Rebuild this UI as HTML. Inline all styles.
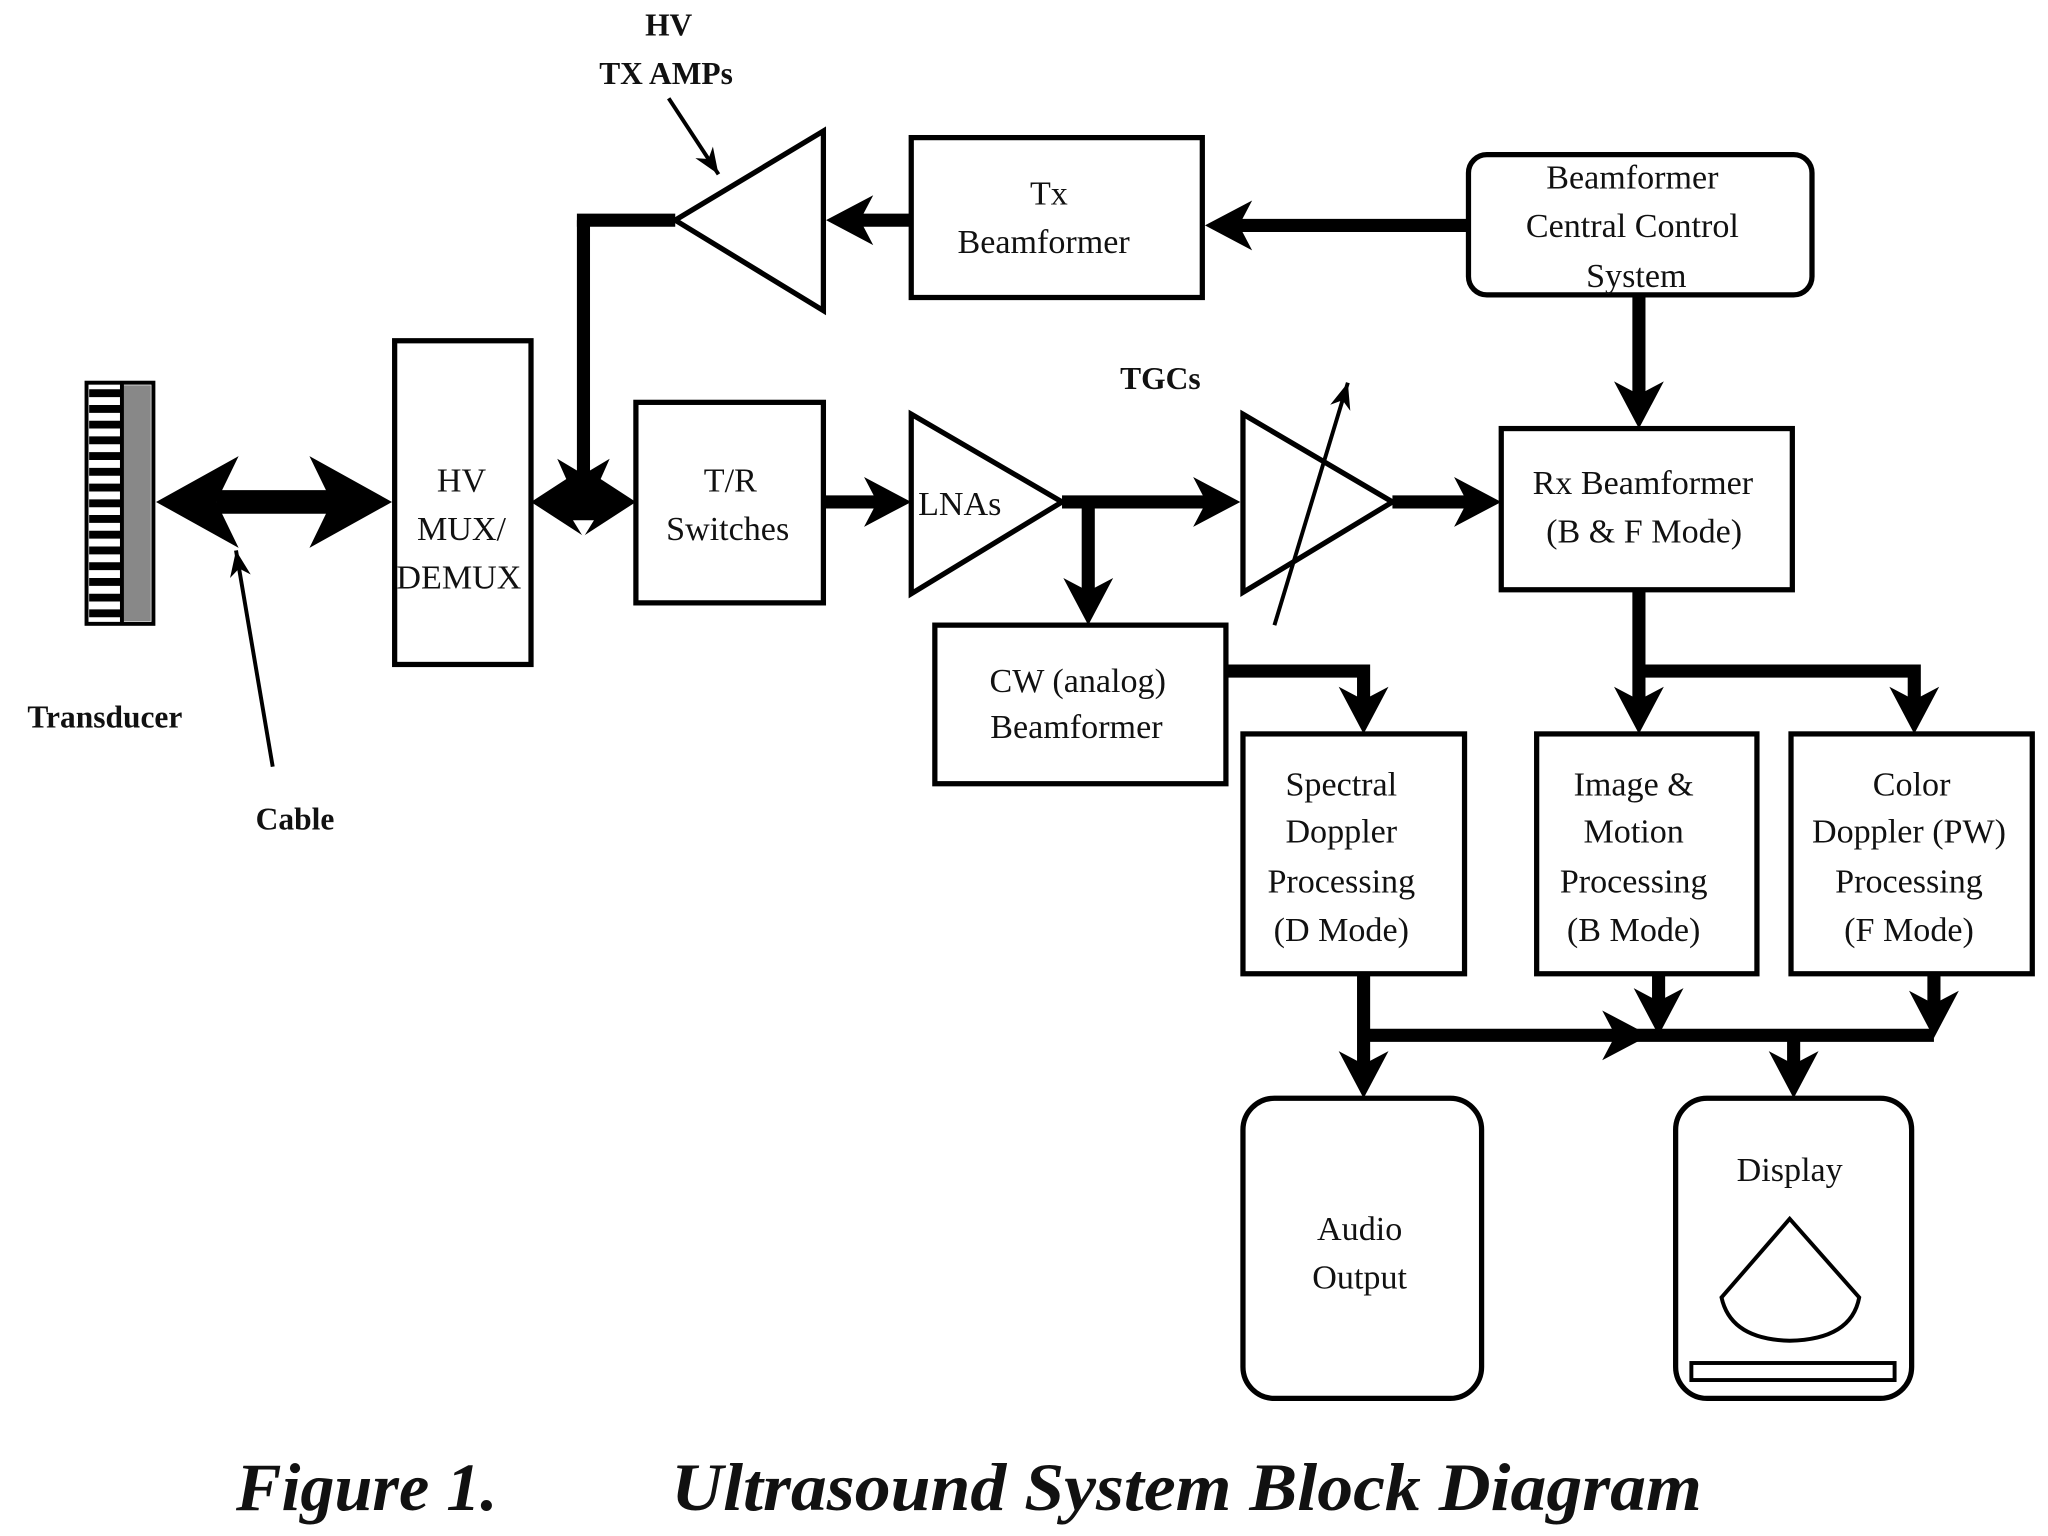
<!DOCTYPE html>
<html><head><meta charset="utf-8"><style>
html,body{margin:0;padding:0;background:#fff;}
svg{display:block;}
text{font-family:"Liberation Serif",serif;fill:#111;}
</style></head><body>
<svg width="2048" height="1536" viewBox="0 0 1562 1172" preserveAspectRatio="none" xmlns="http://www.w3.org/2000/svg">
<defs>
<path id="h" d="M0,0 L-19,-36 L0,-26 L19,-36 Z" fill="#000"/>
<marker id="s" markerUnits="userSpaceOnUse" markerWidth="60" markerHeight="60" refX="0" refY="0" orient="auto" overflow="visible">
<path d="M0,0 L-20,-8 L-14,0 L-20,8 Z" fill="#000"/>
</marker>
</defs>
<g fill="none" stroke="#000">
<rect x="66" y="292" width="51" height="184" fill="#fff" stroke-width="3"/>
<rect x="93" y="294" width="22" height="180" fill="#888" stroke="none"/>
<line x1="93" y1="292" x2="93" y2="476" stroke-width="3"/>
<path d="M68,300 H93 M68,312 H93 M68,324 H93 M68,336 H93 M68,348 H93 M68,360 H93 M68,372 H93 M68,384 H93 M68,396 H93 M68,408 H93 M68,420 H93 M68,432 H93 M68,444 H93 M68,456 H93 M68,468 H93" stroke-width="6"/>
<line x1="165" y1="383" x2="255" y2="383" stroke-width="18"/>
<path d="M119,383 L182,348 L165,383 L182,418 Z M299,383 L236,348 L253,383 L236,418 Z" fill="#000" stroke="none"/>
<line x1="208" y1="585" x2="180" y2="420" stroke-width="3" marker-end="url(#s)"/>
<rect x="301" y="260" width="104" height="247" stroke-width="4"/>
<path d="M405,383 L445,357 L485,383 L445,409 Z" fill="#000" stroke="none"/>
<path d="M437,397 L453,397 L445,410 Z" fill="#fff" stroke="none"/>
<path d="M445,168 V375" stroke-width="10"/>
<path d="M445,395 L425,350 L445,362 L465,350 Z" fill="#000" stroke="none"/>
<path d="M440,168 H515" stroke-width="10"/>
<polygon points="515,168 628,100 628,237" stroke-width="4" fill="#fff"/>
<line x1="510" y1="75" x2="548" y2="133" stroke-width="3" marker-end="url(#s)"/>
<line x1="695" y1="168" x2="645" y2="168" stroke-width="10"/>
<rect x="695" y="105" width="222" height="122" stroke-width="4"/>
<line x1="1120" y1="172" x2="935" y2="172" stroke-width="10"/>
<rect x="1120" y="118" width="262" height="107" rx="14" stroke-width="4"/>
<line x1="1250" y1="225" x2="1250" y2="310" stroke-width="10"/>
<rect x="1145" y="327" width="222" height="123" stroke-width="4"/>
<rect x="485" y="307" width="143" height="153" stroke-width="4"/>
<line x1="628" y1="383" x2="680" y2="383" stroke-width="10"/>
<polygon points="695,316 810,383 695,453" stroke-width="4" fill="#fff"/>
<line x1="810" y1="383" x2="930" y2="383" stroke-width="10"/>
<line x1="830" y1="383" x2="830" y2="462" stroke-width="10"/>
<polygon points="948,316 1062,383 948,452" stroke-width="4"/>
<line x1="972" y1="477" x2="1028" y2="292" stroke-width="3" marker-end="url(#s)"/>
<line x1="1062" y1="383" x2="1130" y2="383" stroke-width="10"/>
<rect x="713" y="477" width="222" height="121" stroke-width="4"/>
<path d="M935,512 H1040 V545" stroke-width="10"/>
<path d="M1250,450 V545 M1250,512 H1460 V545" stroke-width="10"/>
<rect x="948" y="560" width="169" height="183" stroke-width="4"/>
<rect x="1172" y="560" width="168" height="183" stroke-width="4"/>
<rect x="1366" y="560" width="184" height="183" stroke-width="4"/>
<path d="M1040,743 V822 M1040,790 H1475 M1265,743 V775 M1475,743 V780 M1368,790 V822" stroke-width="10"/>
<rect x="948" y="838" width="182" height="229" rx="24" stroke-width="4"/>
<rect x="1278" y="838" width="180" height="229" rx="24" stroke-width="4"/>
<path d="M1365,930 L1313,990 Q1320,1022 1365,1023 Q1412,1022 1418,990 Z" stroke-width="3"/>
<rect x="1290" y="1040" width="155" height="13" stroke-width="3"/>
</g>
<!-- arrowheads -->
<use href="#h" transform="translate(1250,327)"/>
<use href="#h" transform="translate(830,477)"/>
<use href="#h" transform="translate(1040,560)"/>
<use href="#h" transform="translate(1250,560)"/>
<use href="#h" transform="translate(1460,560)"/>
<use href="#h" transform="translate(1040,838)"/>
<use href="#h" transform="translate(1265,790)"/>
<use href="#h" transform="translate(1475,792)"/>
<use href="#h" transform="translate(1368,838)"/>
<use href="#h" transform="translate(630,168) rotate(90)"/>
<use href="#h" transform="translate(919,172) rotate(90)"/>
<use href="#h" transform="translate(695,383) rotate(-90)"/>
<use href="#h" transform="translate(946,383) rotate(-90)"/>
<use href="#h" transform="translate(1145,383) rotate(-90)"/>
<use href="#h" transform="translate(1258,790) rotate(-90)"/>
<g font-size="26" text-anchor="middle">
<text x="510" y="27" font-weight="bold" font-size="24">HV</text>
<text x="508" y="64" font-weight="bold" font-size="24">TX AMPs</text>
<text x="80" y="555" font-weight="bold" font-size="24">Transducer</text>
<text x="225" y="633" font-weight="bold" font-size="24">Cable</text>
<text x="885" y="297" font-weight="bold" font-size="24">TGCs</text>
<text x="352" y="375">HV</text>
<text x="352" y="412">MUX/</text>
<text x="350" y="449">DEMUX</text>
<text x="800" y="156">Tx</text>
<text x="796" y="193">Beamformer</text>
<text x="1245" y="144">Beamformer</text>
<text x="1245" y="181">Central Control</text>
<text x="1248" y="219">System</text>
<text x="1253" y="377">Rx Beamformer</text>
<text x="1254" y="414">(B &amp; F Mode)</text>
<text x="557" y="375">T/R</text>
<text x="555" y="412">Switches</text>
<text x="732" y="393">LNAs</text>
<text x="822" y="528">CW (analog)</text>
<text x="821" y="563">Beamformer</text>
<text x="1023" y="607">Spectral</text>
<text x="1023" y="643">Doppler</text>
<text x="1023" y="681">Processing</text>
<text x="1023" y="718">(D Mode)</text>
<text x="1246" y="607">Image &amp;</text>
<text x="1246" y="643">Motion</text>
<text x="1246" y="681">Processing</text>
<text x="1246" y="718">(B Mode)</text>
<text x="1458" y="607">Color</text>
<text x="1456" y="643">Doppler (PW)</text>
<text x="1456" y="681">Processing</text>
<text x="1456" y="718">(F Mode)</text>
<text x="1037" y="946">Audio</text>
<text x="1037" y="983">Output</text>
<text x="1365" y="901">Display</text>
</g>
<g font-size="52" font-weight="bold" font-style="italic">
<text x="180" y="1152">Figure 1.</text>
<text x="512" y="1152" textLength="786" lengthAdjust="spacingAndGlyphs">Ultrasound System Block Diagram</text>
</g>
</svg>
</body></html>
